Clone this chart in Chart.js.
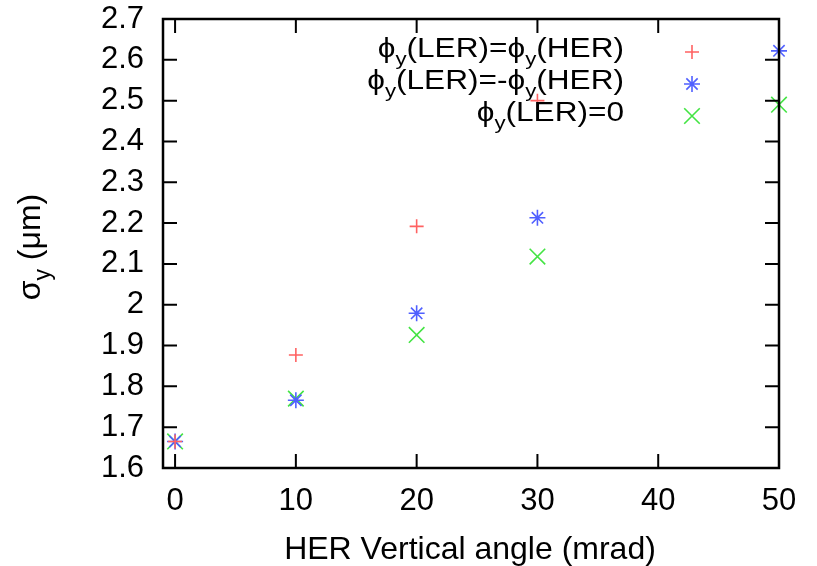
<!DOCTYPE html>
<html lang="en">
<head>
  <meta charset="UTF-8">
  <title>sigma_y vs HER vertical angle</title>
  <script src="https://cdn.jsdelivr.net/npm/chart.js"></script>
  <style>
    html, body { margin: 0; padding: 0; background: #fff; }
    #wrap { width: 817px; height: 566px; }
  </style>
</head>
<body>
  <div id="wrap"><canvas id="sigmaChart" width="817" height="566"></canvas></div>

  <script>
    // data
    const xTicks = [0, 10, 20, 30, 40, 50];
    const yTicks = [1.6, 1.7, 1.8, 1.9, 2.0, 2.1, 2.2, 2.3, 2.4, 2.5, 2.6, 2.7];

    const sameAngle = [0, 10, 20, 30];
    const sameSigma = [1.665, 1.877, 2.192, 2.50];

    const oppAngle = [0, 10, 20, 30, 50];
    const oppSigma = [1.665, 1.766, 1.979, 2.213, 2.622];

    const zeroAngle = [0, 10, 20, 30, 50];
    const zeroSigma = [1.665, 1.770, 1.926, 2.118, 2.490];

    const seriesLabels = ['ϕ_y(LER)=ϕ_y(HER)', 'ϕ_y(LER)=-ϕ_y(HER)', 'ϕ_y(LER)=0'];
    const xTitle = 'HER Vertical angle (mrad)';
    const yTitle = 'σ_y (μm)';

    const FONT = "'Liberation Sans', Arial, sans-serif";
    const colors = ['#ff6262', '#5060ff', '#44e444'];
    const styles = ['cross', 'star', 'crossRot'];
    const radii = [7, 8, 11];

    function pts(xs, ys) {
      return xs.map((x, i) => ({ x: x, y: ys[i] }));
    }

    // text with "_y" subscripts; sx stretches it sideways
    function drawRich(ctx, text, x, y, align, size, sx) {
      const parts = [];
      let buf = '';
      for (let i = 0; i < text.length; i++) {
        if (text[i] === '_') {
          if (buf) parts.push({ t: buf, sub: false });
          buf = '';
          parts.push({ t: text[i + 1], sub: true });
          i++;
        } else buf += text[i];
      }
      if (buf) parts.push({ t: buf, sub: false });
      const big = size + 'px ' + FONT, small = Math.round(size * 0.72) + 'px ' + FONT;
      let w = 0;
      parts.forEach(p => { ctx.font = p.sub ? small : big; p.w = ctx.measureText(p.t).width; w += p.w; });
      ctx.save();
      ctx.translate(x, y);
      ctx.scale(sx, 1);
      let cx = align === 'right' ? -w : (align === 'center' ? -w / 2 : 0);
      ctx.textAlign = 'left';
      ctx.textBaseline = 'alphabetic';
      parts.forEach(p => {
        ctx.font = p.sub ? small : big;
        ctx.fillText(p.t, cx, p.sub ? size * 0.3 : 0);
        cx += p.w;
      });
      ctx.restore();
    }

    function drawMark(ctx, style, x, y, r) {
      ctx.beginPath();
      if (style === 'cross' || style === 'star') {
        ctx.moveTo(x - r, y); ctx.lineTo(x + r, y);
        ctx.moveTo(x, y - r); ctx.lineTo(x, y + r);
      }
      if (style === 'crossRot' || style === 'star') {
        const d = r * Math.SQRT1_2;
        ctx.moveTo(x - d, y - d); ctx.lineTo(x + d, y + d);
        ctx.moveTo(x - d, y + d); ctx.lineTo(x + d, y - d);
      }
      ctx.stroke();
    }

    const framePlugin = {
      id: 'frame',
      afterDraw(chart) {
        const ctx = chart.ctx;
        const a = chart.chartArea;
        const xs = chart.scales.x, ys = chart.scales.y;
        ctx.save();
        ctx.strokeStyle = '#000';
        ctx.lineWidth = 2.5;
        ctx.strokeRect(a.left, a.top, a.right - a.left, a.bottom - a.top);
        ctx.lineWidth = 2;
        ctx.beginPath();
        const tl = 14;
        xTicks.forEach(v => {
          const px = xs.getPixelForValue(v);
          ctx.moveTo(px, a.bottom); ctx.lineTo(px, a.bottom - tl);
          ctx.moveTo(px, a.top); ctx.lineTo(px, a.top + tl);
        });
        yTicks.forEach(v => {
          const py = ys.getPixelForValue(v);
          ctx.moveTo(a.left, py); ctx.lineTo(a.left + tl, py);
          ctx.moveTo(a.right, py); ctx.lineTo(a.right - tl, py);
        });
        ctx.stroke();

        // legend, top right
        ctx.fillStyle = '#000';
        seriesLabels.forEach((lab, i) => {
          const base = [57, 89, 121][i];
          drawRich(ctx, lab, 624, base, 'right', 27, 1.17);
          ctx.strokeStyle = colors[i];
          ctx.lineWidth = 1.6;
          drawMark(ctx, styles[i], 692, base - 5, radii[i]);
        });

        // axis titles
        ctx.fillStyle = '#000';
        drawRich(ctx, xTitle, 470, 559, 'center', 32, 1);
        ctx.translate(40, 247);
        ctx.rotate(-Math.PI / 2);
        drawRich(ctx, yTitle, 0, 0, 'center', 32, 1);
        ctx.restore();
      }
    };

    function makeSet(i, data) {
      return {
        label: seriesLabels[i],
        data: data,
        pointStyle: styles[i],
        pointRadius: radii[i],
        pointHoverRadius: radii[i],
        pointBorderColor: colors[i],
        pointBackgroundColor: colors[i],
        pointBorderWidth: 1.6,
        showLine: false,
        clip: false
      };
    }

    new Chart(document.getElementById('sigmaChart'), {
      type: 'scatter',
      data: {
        datasets: [
          makeSet(0, pts(sameAngle, sameSigma)),
          makeSet(1, pts(oppAngle, oppSigma)),
          makeSet(2, pts(zeroAngle, zeroSigma))
        ]
      },
      options: {
        responsive: false,
        animation: false,
        layout: { padding: { left: 0, right: 38, top: 19, bottom: 0 } },
        plugins: { legend: { display: false }, tooltip: { enabled: false } },
        scales: {
          x: {
            type: 'linear',
            min: -1,
            max: 50,
            afterBuildTicks: s => { s.ticks = xTicks.map(v => ({ value: v })); },
            afterFit: s => { s.height = 98; s.paddingLeft = 0; s.paddingRight = 0; },
            grid: { display: false, drawTicks: false },
            border: { display: false },
            ticks: { color: '#000', padding: 15, autoSkip: false, maxRotation: 0, font: { family: FONT, size: 31 } }
          },
          y: {
            type: 'linear',
            min: 1.6,
            max: 2.7,
            afterBuildTicks: s => { s.ticks = yTicks.map(v => ({ value: v })); },
            afterFit: s => { s.width = 163; s.paddingTop = 0; s.paddingBottom = 0; },
            grid: { display: false, drawTicks: false },
            border: { display: false },
            ticks: {
              color: '#000', padding: 19, autoSkip: false, font: { family: FONT, size: 31 },
              callback: v => String(Number(v.toFixed(1)))
            }
          }
        }
      },
      plugins: [framePlugin]
    });
  </script>
</body>
</html>
